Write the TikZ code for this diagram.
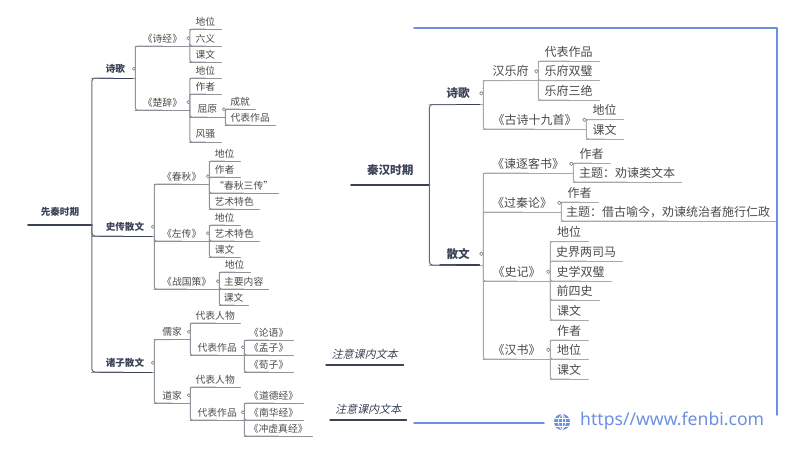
\documentclass[tikz,border=0pt]{standalone}
\usepackage{fontspec}
\setmainfont{Noto Sans CJK SC}
\newfontfamily\slantcjk[FakeSlant=0.25]{Noto Sans CJK SC}
\newfontfamily\urlfont{Noto Sans}
\definecolor{navy}{HTML}{3A4256}
\definecolor{txtgray}{HTML}{4A4A4A}
\definecolor{lgray}{HTML}{8E929A}
\definecolor{rgray}{HTML}{A6A8AC}
\definecolor{fbblue}{HTML}{6C8FE0}
\tikzset{
	topic/.style={inner sep=0pt,anchor=south west,text=txtgray},
	lnode/.style={topic,minimum height=15pt,font=\fontsize{9.8}{11}\selectfont},
	rnode/.style={topic,minimum height=18pt,font=\fontsize{12}{14}\selectfont},
	lhead/.style={lnode,minimum height=18pt,text=navy,font=\fontsize{9.6}{11}\selectfont\bfseries},
	rhead/.style={rnode,minimum height=22pt,text=navy,font=\fontsize{11.6}{13}\selectfont\bfseries},
	notenode/.style={topic,minimum height=22pt,text=navy,font=\fontsize{11}{13}\selectfont\slantcjk},
	llink/.style={draw=lgray,line width=1pt,rounded corners=2pt},
	rlink/.style={draw=rgray,line width=1pt,rounded corners=2pt},
	mainlink/.style={draw=navy!80,line width=1pt,rounded corners=3pt},
	headline/.style={draw=navy,line width=1.4pt},
	rootline/.style={draw=navy,line width=1.8pt},
	knob/.style={draw=gray,fill=white,line width=.6pt},
	frameline/.style={draw=fbblue,line width=1.8pt}
}
\begin{document}
\begin{tikzpicture}[x=1pt,y=-1pt,line cap=round,line join=round]
	\useasboundingbox (0,0) rectangle (800,450);
	% left map
	\foreach \nm/\xa/\xb/\yy/\txt in {
		lsj/135/189.5/46/《诗经》, lcc/135/189.5/110/《楚辞》,
		lsja/189.5/221/29/地位, lsjb/189.5/221/46/六义, lsjc/189.5/221/62/课文,
		lcca/189.5/221/78/地位, lccb/189.5/221/94/作者, lqy/189.5/225/117/屈原, lccd/189.5/221/142/风骚,
		lqya/225/255/109/成就, lqyb/225/275/125/代表作品,
		lcq/154/209/184/《春秋》, lzz/154/209/241/《左传》, lzg/154/219/289/《战国策》,
		lcqa/209/240/161/地位, lcqb/209/240/177/作者, lcqc/209/278/193/“春秋三传”, lcqd/209/259/209/艺术特色,
		lzza/209/240/225/地位, lzzb/209/259/241/艺术特色, lzzc/209/240/257/课文,
		lzga/219/250/272/地位, lzgb/219/268/289/主要内容, lzgc/219/248/305/课文,
		lrj/154/190/339.5/儒家, ldj/154/190/403/道家,
		lrja/190/240/323/代表人物, lrp/190/244/355/代表作品, ldja/190/240/387/代表人物, ldp/190/244/420/代表作品,
		lrpa/244/293/340/《论语》, lrpb/244/293/355/《孟子》, lrpc/244/293/372/《荀子》,
		ldpa/244/303/403/《道德经》, ldpb/244/303/420/《南华经》, ldpc/244/312/436/《冲虚真经》}
	{
		\node[lnode,minimum width=(\xb-\xa)*1pt] (\nm) at (\xa,\yy) {\txt};
		\draw[llink] (\nm.south west)--(\nm.south east);
	}
	\foreach \nm/\xa/\xb/\yy/\txt in {lsg/91.5/135/78/诗歌, lsz/91.5/154/236/史传散文, lzs/91.5/154/372/诸子散文}
	{
		\node[lhead,minimum width=(\xb-\xa)*1pt] (\nm) at (\xa,\yy) {\hspace*{4pt}\txt};
		\draw[llink] (\nm.south west)--(\nm.south east);
		\draw[headline,shorten <=8pt,shorten >=3pt,line width=1pt] (\nm.south west)--(\nm.south east);
	}
	\node[lhead,minimum width=63.5pt,minimum height=26pt] (xq) at (28,225) {先秦时期};
	\draw[rootline] (xq.south west)--(xq.south east);
	\foreach \ch in {lsg,lsz,lzs} \draw[mainlink] (xq.south east) |- (\ch.south);
	\foreach \pa/\kids in {lsg/{lsj,lcc}, lsj/{lsja,lsjb,lsjc}, lcc/{lcca,lccb,lqy,lccd}, lqy/{lqya,lqyb},
		lsz/{lcq,lzz,lzg}, lcq/{lcqa,lcqb,lcqc,lcqd}, lzz/{lzza,lzzb,lzzc}, lzg/{lzga,lzgb,lzgc},
		lzs/{lrj,ldj}, lrj/{lrja,lrp}, ldj/{ldja,ldp}, lrp/{lrpa,lrpb,lrpc}, ldp/{ldpa,ldpb,ldpc}}
	{
		\foreach \ch in \kids \draw[llink] (\pa.south east) |- (\ch.south);
		\draw[knob] ([xshift=-1.5pt]\pa.east) circle(1.6);
	}
	% notes
	\node[notenode,minimum width=77pt] (notea) at (326,365) {注意课内文本};
	\node[notenode,minimum width=76pt] (noteb) at (330,420) {注意课内文本};
	\foreach \nm in {notea,noteb} \draw[headline] (\nm.south west)--(\nm.south east);
	% right map
	\foreach \nm/\xa/\xb/\yy/\txt in {
		rhy/483/538/80.5/汉乐府, rgs/483/586/129/《古诗十九首》,
		rhya/538/599/61/代表作品, rhyb/538/599/80.5/乐府双璧, rhyc/538/599/100/乐府三绝,
		rgsa/586/623/119.5/地位, rgsb/586/623/139/课文,
		rjz/483/573/173/《谏逐客书》, rgq/483/561/212/《过秦论》, rsj/483/550/281/《史记》, rhs/483/550/359/《汉书》,
		rjza/573/610/163/作者, rjzb/573/681/182/主题：劝谏类文本,
		rgqa/561/598/202/作者, rgqb/561/775/221/主题：借古喻今，劝谏统治者施行仁政,
		rsja/550/588/241.5/地位, rsjb/550/622/261/史界两司马, rsjc/550/611/281/史学双璧, rsjd/550/599/300/前四史, rsje/550/588/320/课文,
		rhsa/550/588/340/作者, rhsb/550/588/359/地位, rhsc/550/588/379/课文}
	{
		\node[rnode,minimum width=(\xb-\xa)*1pt] (\nm) at (\xa,\yy) {\txt};
		\draw[rlink] (\nm.south west)--(\nm.south east);
	}
	\foreach \nm/\xa/\xb/\yy/\txt in {rsg/429/483/104.5/诗歌, rsw/429/483/265/散文}
	{
		\node[rhead,minimum width=(\xb-\xa)*1pt] (\nm) at (\xa,\yy) {\hspace*{4pt}\txt};
		\draw[rlink] (\nm.south west)--(\nm.south east);
		\draw[headline,shorten <=11pt,shorten >=4pt] (\nm.south west)--(\nm.south east);
	}
	\node[rhead,minimum width=78pt,minimum height=30pt] (qh) at (351,185) {秦汉时期};
	\draw[rootline] (qh.south west)--(qh.south east);
	\foreach \ch in {rsg,rsw} \draw[mainlink] (qh.south east) |- (\ch.south);
	\foreach \pa/\kids in {rsg/{rhy,rgs}, rhy/{rhya,rhyb,rhyc}, rgs/{rgsa,rgsb},
		rsw/{rjz,rgq,rsj,rhs}, rjz/{rjza,rjzb}, rgq/{rgqa,rgqb}, rsj/{rsja,rsjb,rsjc,rsjd,rsje}, rhs/{rhsa,rhsb,rhsc}}
	{
		\foreach \ch in \kids \draw[rlink] (\pa.south east) |- (\ch.south);
		\draw[knob] ([xshift=-2pt]\pa.east) circle(1.8);
	}
	% frame and site mark
	\draw[frameline] (414,28)--(777,28)--(777,415);
	\draw[frameline] (414,423)--(544,423);
	\fill[fbblue] (562,422) circle(8);
	\begin{scope}[draw=white,line width=.7pt]
		\draw (554,422)--(570,422) (555.5,418)--(568.5,418) (555.5,426)--(568.5,426) (562,414)--(562,430);
		\draw (562,414) ..controls (557,418) and (557,426) .. (562,430);
		\draw (562,414) ..controls (567,418) and (567,426) .. (562,430);
	\end{scope}
	\node[inner sep=0pt,anchor=west,text=fbblue,font=\fontsize{17.6}{20}\urlfont] (site) at (580,421) {https//www.fenbi.com};
\end{tikzpicture}
\end{document}
